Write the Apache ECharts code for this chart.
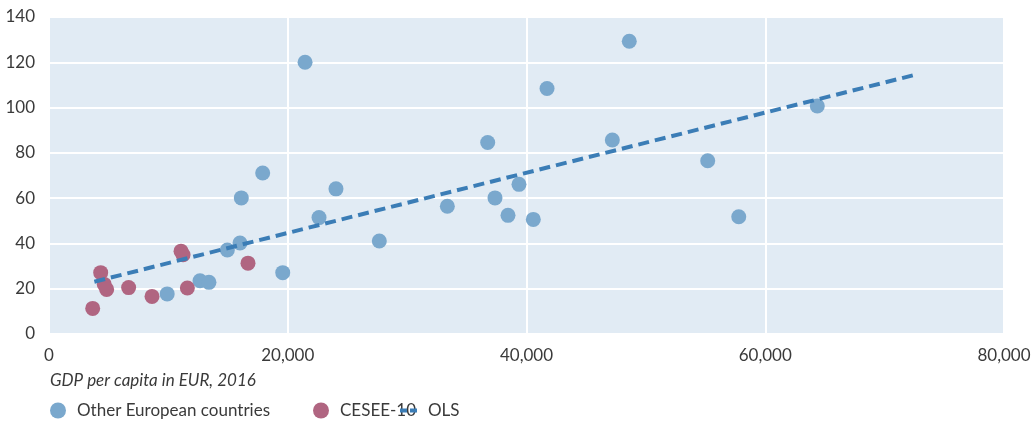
<!DOCTYPE html>
<html>
<head>
<meta charset="utf-8">
<script src="https://cdn.jsdelivr.net/npm/echarts@6/dist/echarts.min.js"></script>
<style>
html,body{margin:0;padding:0;background:#fff;}
#c{width:1031px;height:421px;}
</style>
</head>
<body>
<div id="c"></div>
<script>
// GDP per capita (EUR, 2016) and y-value
var otherX = [9900, 12650, 13400, 14940, 16000, 16110, 17900, 19580, 21450, 22620, 24040, 27670, 33370, 36750, 37360, 38450, 39370, 40570, 41720, 47190, 48610, 55180, 57780, 64360];
var otherY = [17.7, 23.5, 22.8, 37.1, 40.2, 60.1, 71.1, 27.1, 120, 51.4, 64.1, 41.1, 56.4, 84.6, 60.1, 52.4, 66.1, 50.6, 108.4, 85.7, 129.3, 76.5, 51.8, 100.7];
var ceseeX = [3660, 4330, 4630, 4830, 6670, 8630, 11060, 11230, 11590, 16670];
var ceseeY = [11.3, 27.1, 21.9, 19.7, 20.5, 16.6, 36.6, 35.0, 20.3, 31.3];
var olsX = [3800, 72500];
var olsY = [23.1, 114.4];
var xTicks = [0, 20000, 40000, 60000, 80000];
var yTicks = [0, 20, 40, 60, 80, 100, 120, 140];
var names = ['Other European countries', 'CESEE-10', 'OLS'];
var xTitle = 'GDP per capita in EUR, 2016';

function zip(a, b) { return a.map(function (v, i) { return [v, b[i]]; }); }

var FONT = 'Lato';
var TXT = '#3a3a3a';
var chart = echarts.init(document.getElementById('c'));
chart.setOption({
  animation: false,
  textStyle: { fontFamily: FONT },
  grid: { left: 49, right: 27, top: 17, bottom: 87, show: true, backgroundColor: '#e1ebf4', borderWidth: 0,
    containLabel: false, outerBoundsMode: 'none' },
  xAxis: {
    type: 'value', min: xTicks[0], max: xTicks[xTicks.length - 1], interval: 20000,
    axisLine: { show: false }, axisTick: { show: false },
    axisLabel: { color: TXT, fontSize: 17, fontFamily: FONT, margin: 13,
      formatter: function (v) { return v.toLocaleString('en-US'); } },
    splitLine: { show: true, lineStyle: { color: '#ffffff', width: 2 } }
  },
  yAxis: {
    type: 'value', min: yTicks[0], max: yTicks[yTicks.length - 1], interval: 20,
    axisLine: { show: false }, axisTick: { show: false },
    axisLabel: { color: TXT, fontSize: 17, fontFamily: FONT, margin: 14 },
    splitLine: { show: true, lineStyle: { color: '#ffffff', width: 2 } }
  },
  legend: [
    { data: [names[0]], left: 50, top: 402, padding: 0, itemWidth: 16, itemHeight: 16, itemGap: 0,
      textStyle: { color: TXT, fontSize: 17, fontFamily: FONT, padding: [0, 0, 0, 6] } },
    { data: [names[1]], left: 313, top: 402, padding: 0, itemWidth: 16, itemHeight: 16, itemGap: 0,
      textStyle: { color: TXT, fontSize: 17, fontFamily: FONT, padding: [0, 0, 0, 6] } },
    { data: [{ name: names[2], icon: 'path://M0,0H7V4H0Z M10,0H17V4H10Z' }], left: 400, top: 402, padding: 0,
      itemWidth: 17, itemHeight: 4, itemGap: 0,
      textStyle: { color: TXT, fontSize: 17, fontFamily: FONT, padding: [0, 0, 0, 6] } }
  ],
  graphic: [
    { type: 'text', left: 50, top: 372, style: { text: xTitle, fill: TXT, font: 'italic 17px ' + FONT } }
  ],
  series: [
    { name: names[0], type: 'scatter', data: zip(otherX, otherY), symbolSize: 15,
      itemStyle: { color: '#7aa8cd', opacity: 1 }, z: 3 },
    { name: names[1], type: 'scatter', data: zip(ceseeX, ceseeY), symbolSize: 15,
      itemStyle: { color: '#b06581', opacity: 1 }, z: 3 },
    { name: names[2], type: 'line', data: zip(olsX, olsY), symbol: 'none',
      lineStyle: { color: '#3b7db6', width: 4, type: [11, 6] }, itemStyle: { color: '#3b7db6' }, z: 4 }
  ]
});
</script>
</body>
</html>
